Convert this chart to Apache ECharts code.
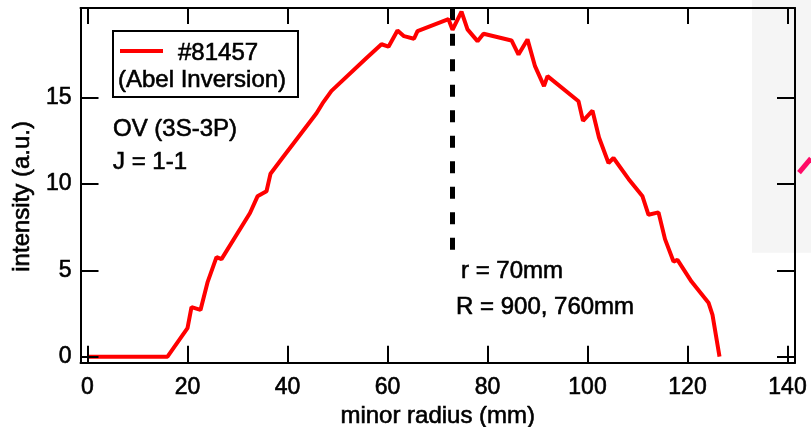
<!DOCTYPE html>
<html>
<head>
<meta charset="utf-8">
<script src="https://cdn.jsdelivr.net/npm/echarts@6/dist/echarts.min.js"></script>
<style>html,body{margin:0;padding:0;background:#fff;}#c{width:811px;height:427px;}</style>
</head>
<body>
<div id="c"></div>
<script>
// ---- data ----
const radius = [0, 16, 20, 20.8, 22.6, 24, 25.8, 26.8, 32.5, 34, 35.8, 36.6, 39.2, 45.8, 47, 48.8, 55.8, 58.8, 60.2, 62, 63.3, 65.3, 66, 72.2, 73, 74.8, 76, 78, 79.2, 84.8, 86.2, 88, 89.5, 91.3, 92, 98.2, 99.1, 101, 102.3, 104.2, 105.2, 108.2, 111, 112.2, 114.2, 115.5, 117.2, 118, 120.8, 124.2, 125, 126.4];
const intensity = [0, 0, 1.65, 2.87, 2.71, 4.3, 5.77, 5.65, 8.32, 9.29, 9.58, 10.6, 11.6, 14.1, 14.67, 15.4, 17.3, 18.1, 17.96, 18.9, 18.57, 18.42, 18.86, 19.55, 18.94, 19.99, 18.96, 18.28, 18.71, 18.32, 17.5, 18.38, 16.83, 15.67, 16.25, 14.8, 13.66, 14.25, 12.7, 11.22, 11.51, 10.3, 9.29, 8.22, 8.36, 6.81, 5.51, 5.61, 4.35, 3.13, 2.42, 0];
const markerX = [73, 73];
const markerY = [20.18, 6.13];
const xTicks = [0, 20, 40, 60, 80, 100, 120, 140];
const yTicks = [0, 5, 10, 15];
const seriesName = '#81457';
const legendNote = '(Abel Inversion)';
const notes = ['OV (3S-3P)', 'J = 1-1', 'r = 70mm', 'R = 900, 760mm'];
// fragment of neighbouring panel (normalised coords)
const fragX = [0.797, 1.0];
const fragY = [0.317, 0.373];

const zip = (a, b) => a.map((v, i) => [v, b[i]]);
const FONT = 'Liberation Sans, Arial, Helvetica, sans-serif';
const TB = { textBorderColor: '#000', textBorderWidth: 0.6 };
const axisCommon = {
  axisLine: { show: true, onZero: false, lineStyle: { color: '#000', width: 2 } },
  splitLine: { show: false },
  z: 5
};
const txt = (x, y, text) => ({
  type: 'text', x: x, y: y, z: 11,
  style: { text: text, fontSize: 24, fontFamily: FONT, fill: '#000', align: 'left', verticalAlign: 'middle', stroke: '#000', lineWidth: 0.6 }
});

const chart = echarts.init(document.getElementById('c'), null, { renderer: 'canvas' });
chart.setOption({
  animation: false,
  backgroundColor: '#fff',
  grid: [
    { left: 80.5, right: 16, top: 8, bottom: 64.3, containLabel: false, outerBoundsMode: 'none' },
    { left: 752, right: 0, top: 0, height: 252.7, show: true, backgroundColor: '#f5f5f5', borderWidth: 0, z: -1, outerBoundsMode: 'none' }
  ],
  xAxis: [
    Object.assign({}, axisCommon, {
      type: 'value', gridIndex: 0, position: 'bottom', min: -1.4, max: 141.5,
      axisTick: { show: true, inside: true, length: 17, lineStyle: { color: '#000', width: 2 }, customValues: xTicks },
      axisLabel: Object.assign({ show: true, customValues: xTicks, margin: 13, color: '#000', fontSize: 23, fontFamily: FONT }, TB),
      name: 'minor radius (mm)', nameLocation: 'middle', nameGap: 38,
      nameTextStyle: Object.assign({ color: '#000', fontSize: 24, fontFamily: FONT }, TB)
    }),
    Object.assign({}, axisCommon, {
      type: 'value', gridIndex: 0, position: 'top', min: -1.4, max: 141.5,
      axisTick: { show: true, inside: true, length: 16, lineStyle: { color: '#000', width: 2 }, customValues: xTicks },
      axisLabel: { show: false }
    }),
    { type: 'value', gridIndex: 1, min: 0, max: 1, show: false }
  ],
  yAxis: [
    Object.assign({}, axisCommon, {
      type: 'value', gridIndex: 0, position: 'left', min: -0.35, max: 20.2,
      axisTick: { show: true, inside: true, length: 18, lineStyle: { color: '#000', width: 2 }, customValues: yTicks },
      axisLabel: Object.assign({ show: true, customValues: yTicks, margin: 9, color: '#000', fontSize: 23, fontFamily: FONT }, TB),
      name: 'intensity (a.u.)', nameLocation: 'middle', nameGap: 46, nameRotate: 90,
      nameTextStyle: Object.assign({ color: '#000', fontSize: 24, fontFamily: FONT, padding: [0, 22, 0, 0] }, TB)
    }),
    Object.assign({}, axisCommon, {
      type: 'value', gridIndex: 0, position: 'right', min: -0.35, max: 20.2,
      axisTick: { show: true, inside: true, length: 18, lineStyle: { color: '#000', width: 2 }, customValues: yTicks },
      axisLabel: { show: false }
    }),
    { type: 'value', gridIndex: 1, min: 0, max: 1, show: false }
  ],
  series: [
    {
      name: seriesName, type: 'line', xAxisIndex: 0, yAxisIndex: 0,
      data: zip(radius, intensity), symbol: 'none', z: 3,
      lineStyle: { color: '#ff0000', width: 4 }
    },
    {
      name: 'r', type: 'line', xAxisIndex: 0, yAxisIndex: 0,
      data: zip(markerX, markerY), symbol: 'none', z: 2,
      lineStyle: { color: '#000', width: 5, type: [12, 13.5], cap: 'butt' }
    },
    {
      name: 'frag', type: 'line', xAxisIndex: 2, yAxisIndex: 2,
      data: zip(fragX, fragY), symbol: 'none', clip: false,
      lineStyle: { color: '#ff0a66', width: 5, cap: 'butt' }
    }
  ],
  graphic: [
    { type: 'rect', shape: { x: 113, y: 31, width: 185, height: 66 }, style: { fill: '#fff', stroke: '#000', lineWidth: 2 }, z: 10 },
    { type: 'line', shape: { x1: 120, y1: 51, x2: 163, y2: 51 }, style: { stroke: '#ff0000', lineWidth: 4 }, z: 11 },
    txt(178, 53, seriesName),
    txt(118, 80, legendNote),
    txt(113, 129, notes[0]),
    txt(113, 162, notes[1]),
    txt(461, 271, notes[2]),
    txt(456, 307, notes[3])
  ]
});
</script>
</body>
</html>
